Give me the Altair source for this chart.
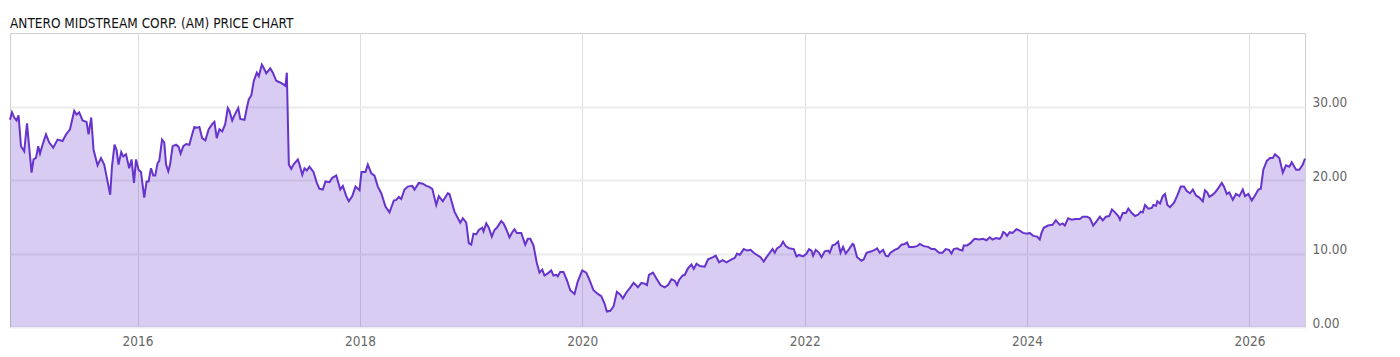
import altair as alt
import pandas as pd

decimal_years = [
    2014.852, 2014.870, 2014.890, 2014.911, 2014.929, 2014.951, 2014.980, 2015.005, 2015.046, 2015.064,
    2015.086, 2015.106, 2015.122, 2015.145, 2015.176, 2015.205, 2015.241, 2015.280, 2015.325, 2015.356,
    2015.392, 2015.430, 2015.451, 2015.475, 2015.505, 2015.541, 2015.559, 2015.583, 2015.604, 2015.640,
    2015.671, 2015.700, 2015.721, 2015.754, 2015.770, 2015.793, 2015.811, 2015.829, 2015.853, 2015.871,
    2015.896, 2015.925, 2015.946, 2015.968, 2015.986, 2016.009, 2016.031, 2016.060, 2016.081, 2016.099,
    2016.121, 2016.141, 2016.159, 2016.180, 2016.195, 2016.220, 2016.240, 2016.256, 2016.276, 2016.292,
    2016.315, 2016.346, 2016.369, 2016.387, 2016.411, 2016.436, 2016.465, 2016.490, 2016.510, 2016.531,
    2016.555, 2016.580, 2016.609, 2016.639, 2016.670, 2016.690, 2016.711, 2016.735, 2016.760, 2016.787,
    2016.810, 2016.825, 2016.850, 2016.873, 2016.904, 2016.922, 2016.960, 2016.981, 2016.999, 2017.021,
    2017.044, 2017.071, 2017.089, 2017.116, 2017.131, 2017.156, 2017.192, 2017.215, 2017.246, 2017.275,
    2017.311, 2017.329, 2017.341, 2017.359, 2017.381, 2017.401, 2017.440, 2017.455, 2017.480, 2017.500,
    2017.521, 2017.545, 2017.581, 2017.611, 2017.635, 2017.665, 2017.689, 2017.725, 2017.750, 2017.786,
    2017.822, 2017.845, 2017.876, 2017.899, 2017.930, 2017.959, 2017.995, 2018.013, 2018.049, 2018.070,
    2018.101, 2018.130, 2018.160, 2018.191, 2018.229, 2018.265, 2018.304, 2018.326, 2018.349, 2018.371,
    2018.400, 2018.430, 2018.470, 2018.490, 2018.529, 2018.565, 2018.596, 2018.619, 2018.650, 2018.686,
    2018.709, 2018.745, 2018.790, 2018.805, 2018.850, 2018.902, 2018.925, 2018.956, 2018.979, 2019.001,
    2019.021, 2019.046, 2019.069, 2019.100, 2019.111, 2019.136, 2019.159, 2019.186, 2019.210, 2019.231,
    2019.271, 2019.291, 2019.316, 2019.345, 2019.370, 2019.390, 2019.411, 2019.451, 2019.487, 2019.510,
    2019.532, 2019.561, 2019.591, 2019.615, 2019.640, 2019.660, 2019.690, 2019.721, 2019.741, 2019.766,
    2019.780, 2019.802, 2019.831, 2019.861, 2019.892, 2019.930, 2019.960, 2020.000, 2020.036, 2020.065,
    2020.101, 2020.140, 2020.171, 2020.200, 2020.221, 2020.252, 2020.281, 2020.311, 2020.342, 2020.365,
    2020.396, 2020.432, 2020.461, 2020.500, 2020.531, 2020.560, 2020.581, 2020.599, 2020.635, 2020.666,
    2020.702, 2020.740, 2020.770, 2020.801, 2020.830, 2020.851, 2020.869, 2020.900, 2020.920, 2020.950,
    2020.981, 2021.001, 2021.026, 2021.055, 2021.100, 2021.130, 2021.175, 2021.199, 2021.229, 2021.260,
    2021.296, 2021.341, 2021.370, 2021.391, 2021.415, 2021.451, 2021.481, 2021.512, 2021.541, 2021.580,
    2021.602, 2021.631, 2021.656, 2021.685, 2021.710, 2021.730, 2021.751, 2021.782, 2021.805, 2021.829,
    2021.859, 2021.901, 2021.926, 2021.949, 2021.985, 2022.016, 2022.039, 2022.061, 2022.075, 2022.099,
    2022.129, 2022.151, 2022.180, 2022.210, 2022.225, 2022.250, 2022.270, 2022.300, 2022.322, 2022.345,
    2022.369, 2022.399, 2022.430, 2022.441, 2022.471, 2022.511, 2022.531, 2022.556, 2022.601, 2022.630,
    2022.651, 2022.675, 2022.705, 2022.729, 2022.750, 2022.772, 2022.810, 2022.840, 2022.871, 2022.900,
    2022.921, 2022.939, 2022.975, 2023.011, 2023.035, 2023.071, 2023.110, 2023.141, 2023.170, 2023.209,
    2023.240, 2023.269, 2023.299, 2023.321, 2023.341, 2023.371, 2023.395, 2023.420, 2023.431, 2023.461,
    2023.492, 2023.515, 2023.530, 2023.569, 2023.605, 2023.636, 2023.665, 2023.690, 2023.719, 2023.755,
    2023.771, 2023.785, 2023.800, 2023.821, 2023.845, 2023.870, 2023.906, 2023.935, 2023.965, 2024.001,
    2024.025, 2024.056, 2024.091, 2024.115, 2024.131, 2024.151, 2024.190, 2024.230, 2024.259, 2024.295,
    2024.320, 2024.340, 2024.370, 2024.401, 2024.439, 2024.475, 2024.500, 2024.541, 2024.565, 2024.595,
    2024.626, 2024.655, 2024.680, 2024.709, 2024.739, 2024.763, 2024.790, 2024.820, 2024.835, 2024.860,
    2024.889, 2024.910, 2024.941, 2024.970, 2025.000, 2025.022, 2025.040, 2025.060, 2025.090, 2025.121,
    2025.135, 2025.159, 2025.171, 2025.195, 2025.220, 2025.240, 2025.261, 2025.285, 2025.321, 2025.351,
    2025.382, 2025.411, 2025.436, 2025.465, 2025.490, 2025.519, 2025.549, 2025.580, 2025.600, 2025.621,
    2025.639, 2025.670, 2025.690, 2025.720, 2025.751, 2025.771, 2025.796, 2025.819, 2025.850, 2025.879,
    2025.909, 2025.940, 2025.960, 2025.990, 2026.021, 2026.050, 2026.080, 2026.102, 2026.125, 2026.156,
    2026.185, 2026.210, 2026.230, 2026.269, 2026.300, 2026.329, 2026.359, 2026.381, 2026.420, 2026.449,
    2026.480, 2026.500,
]

prices = [
    28.2, 29.2, 28.5, 28.1, 28.8, 24.6, 23.9, 27.7, 21.0, 22.8,
    23.0, 24.6, 23.6, 24.8, 26.2, 25.1, 24.4, 25.5, 25.3, 26.2,
    26.9, 29.4, 28.9, 29.2, 28.1, 27.9, 26.2, 28.5, 24.1, 22.0,
    23.0, 22.1, 20.5, 18.0, 21.9, 24.8, 24.1, 22.1, 23.8, 23.2,
    23.5, 21.6, 22.8, 19.6, 22.8, 21.4, 21.1, 17.6, 19.8, 19.8,
    21.6, 20.6, 20.6, 22.3, 22.6, 25.5, 25.1, 22.1, 21.2, 22.1,
    24.6, 24.8, 24.5, 23.6, 24.6, 24.9, 24.8, 26.2, 27.2, 27.1,
    27.2, 25.7, 25.4, 26.9, 27.6, 27.9, 25.7, 26.9, 26.6, 27.6,
    29.8, 29.4, 28.1, 28.9, 29.8, 28.3, 28.2, 29.8, 31.0, 31.5,
    33.5, 34.6, 34.1, 35.7, 35.3, 34.5, 35.2, 34.6, 33.5, 33.3,
    33.0, 32.8, 34.6, 22.1, 21.5, 22.1, 22.8, 22.1, 20.7, 21.6,
    21.3, 21.8, 21.1, 19.6, 18.8, 18.7, 19.8, 19.7, 20.3, 20.6,
    18.7, 19.2, 17.8, 17.1, 17.8, 19.1, 18.6, 21.1, 21.1, 22.1,
    20.9, 20.6, 19.1, 18.2, 16.4, 15.6, 17.2, 17.3, 17.7, 17.4,
    18.7, 19.1, 19.2, 18.7, 19.6, 19.5, 19.2, 19.1, 18.8, 16.6,
    17.8, 17.1, 18.2, 18.1, 15.7, 14.2, 14.8, 14.2, 11.4, 11.2,
    12.7, 12.6, 13.2, 13.5, 13.0, 14.1, 13.5, 12.3, 13.2, 13.5,
    14.4, 14.1, 13.3, 12.2, 12.9, 13.3, 12.8, 12.8, 11.2, 12.0,
    12.0, 11.1, 8.7, 7.4, 7.8, 7.0, 7.3, 7.7, 7.0, 7.1,
    6.9, 7.5, 7.5, 6.4, 5.0, 4.5, 6.2, 7.7, 7.4, 6.4,
    5.0, 4.5, 4.2, 3.2, 2.1, 2.2, 2.8, 4.8, 4.4, 3.9,
    4.7, 5.4, 6.0, 5.4, 6.0, 5.9, 5.7, 7.1, 7.4, 6.6,
    5.7, 5.4, 5.7, 6.5, 6.3, 5.7, 6.4, 7.0, 7.1, 8.0,
    8.5, 7.9, 8.6, 8.3, 8.2, 9.2, 9.5, 9.7, 8.8, 9.1,
    8.8, 9.2, 9.4, 10.0, 9.8, 10.6, 10.4, 10.5, 10.1, 9.7,
    9.5, 8.9, 9.5, 10.1, 10.6, 10.1, 10.7, 11.0, 11.6, 11.0,
    10.7, 10.6, 9.6, 9.8, 9.6, 10.0, 10.6, 10.4, 9.7, 10.5,
    10.1, 9.5, 10.3, 10.4, 10.1, 11.1, 11.2, 11.6, 10.1, 10.9,
    10.0, 10.6, 11.3, 11.2, 9.5, 9.0, 9.2, 10.1, 10.3, 10.5,
    10.7, 10.1, 10.5, 9.7, 9.6, 10.1, 10.5, 10.7, 11.2, 11.3,
    11.5, 10.9, 10.9, 11.0, 11.3, 11.0, 10.9, 10.6, 10.6, 10.1,
    10.1, 10.6, 10.5, 10.0, 10.6, 10.7, 10.5, 10.4, 11.1, 11.1,
    11.4, 11.8, 12.0, 11.9, 12.0, 11.8, 12.2, 11.9, 12.1, 12.0,
    12.3, 12.9, 12.8, 12.4, 12.9, 12.8, 13.3, 13.1, 12.8, 12.7,
    12.8, 12.4, 12.3, 11.9, 12.8, 13.5, 13.8, 13.9, 14.5, 13.9,
    14.1, 13.8, 14.8, 14.6, 14.7, 14.7, 15.0, 15.0, 14.8, 13.8,
    14.4, 15.0, 14.5, 15.0, 15.1, 16.0, 15.6, 15.1, 14.6, 15.5,
    15.5, 16.1, 15.5, 15.1, 15.3, 15.7, 15.6, 16.6, 16.1, 16.2,
    16.6, 16.5, 17.1, 16.8, 17.8, 18.1, 16.6, 16.3, 16.9, 17.9,
    19.1, 19.1, 18.5, 18.2, 18.7, 17.9, 17.6, 17.1, 18.6, 18.3,
    17.7, 18.0, 18.3, 18.9, 19.6, 19.1, 18.1, 18.3, 17.3, 18.1,
    17.8, 18.7, 17.8, 18.1, 17.2, 17.9, 18.7, 18.8, 21.4, 22.6,
    23.0, 23.0, 23.5, 23.0, 21.0, 22.0, 21.8, 22.4, 21.4, 21.4,
    22.1, 22.9,
]

tick_years = [2016, 2018, 2020, 2022, 2024, 2026]
price_ticks = [0, 10, 20, 30]
title_text = "ANTERO MIDSTREAM CORP. (AM) PRICE CHART"


def to_date(t):
    year = int(t)
    start = pd.Timestamp(year=year, month=1, day=1)
    end = pd.Timestamp(year=year + 1, month=1, day=1)
    return start + (end - start) * (t - year)


df = pd.DataFrame({
    "date": [to_date(t) for t in decimal_years],
    "price": prices,
})

LINE = "#6633cc"
FONT = "DejaVu Sans Condensed, Roboto, sans-serif"

x_enc = alt.X(
    "date:T",
    scale=alt.Scale(nice=False),
    axis=alt.Axis(
        values=[alt.DateTime(year=y, month=1, date=1) for y in tick_years],
        format="%Y",
        grid=True,
        gridColor="#dddddd",
        gridWidth=1,
        ticks=False,
        domain=False,
        labelFont=FONT,
        labelFontSize=13.5,
        labelColor="#666666",
        labelPadding=7,
        title=None,
    ),
)
y_enc = alt.Y(
    "price:Q",
    scale=alt.Scale(domain=[0, 40], nice=False, zero=True),
    axis=alt.Axis(
        orient="right",
        values=price_ticks,
        format=".2f",
        grid=True,
        gridColor="#ececec",
        gridWidth=2,
        ticks=False,
        domain=False,
        labelFont=FONT,
        labelFontSize=13.5,
        labelColor="#666666",
        labelPadding=7,
        labelBaseline="alphabetic",
        title=None,
    ),
)

area = alt.Chart(df).mark_area(color=LINE, fillOpacity=0.25, strokeWidth=0).encode(x=x_enc, y=y_enc)
line = alt.Chart(df).mark_line(color=LINE, strokeWidth=2).encode(x="date:T", y="price:Q")

chart = (
    alt.layer(area, line)
    .properties(
        width=1295,
        height=294,
        title=alt.TitleParams(
            text=title_text,
            anchor="start",
            frame="group",
            font=FONT,
            fontSize=13.5,
            fontWeight="normal",
            color="#111111",
            baseline="alphabetic",
            offset=11,
            dy=19,
        ),
        autosize=alt.AutoSizeParams(type="none"),
        padding={"left": 10, "top": 33, "right": 95, "bottom": 30},
        background="white",
    )
    .configure_view(stroke="#d0d0d0", strokeWidth=1)
)

chart.save("out.html", embed_options={"renderer": "svg", "actions": False})
